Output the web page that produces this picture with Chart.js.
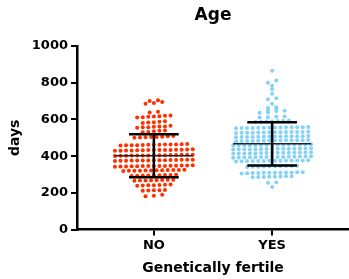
<!DOCTYPE html>
<html><head><meta charset="utf-8">
<script src="https://cdn.jsdelivr.net/npm/chart.js@4/dist/chart.umd.min.js"></script>
<style>html,body{margin:0;padding:0;background:#fff}#wrap{width:349px;height:279px;position:relative}</style>
</head><body><div id="wrap"><canvas id="c"></canvas></div>
<script>
const categories = ['NO', 'YES'];
const titleText = 'Age';
const xTitle = 'Genetically fertile';
const yTitle = 'days';
const yTicks = [0, 200, 400, 600, 800, 1000];

const noValues = [
  705, 700, 690, 685, 695,
  642, 638,
  620, 618, 615, 612, 610, 622, 616,
  588, 585, 583, 590, 580,
  562, 560, 558, 565, 555, 561, 557,
  538, 535, 532, 540, 530,
  508, 505, 502, 510, 500, 506, 504, 503,
  465, 462, 460, 463, 461, 464, 458, 466, 462, 460, 463, 459, 462,
  435, 433, 431, 434, 432, 436, 430, 433, 434, 432, 435, 431, 433, 437, 429,
  405, 403, 407, 404, 406, 402, 405, 408, 401, 404, 406, 403, 405, 407, 402,
  378, 376, 380, 377, 379, 375, 378, 381, 374, 377, 379, 376, 378, 380, 375,
  347, 345, 349, 346, 348, 344, 347, 350, 343, 346, 348, 345, 347, 349, 344,
  323, 321, 325, 322, 324, 320, 323, 326, 319, 322, 324, 321,
  296, 294, 298, 295, 297, 293, 296, 299, 292,
  269, 267, 271, 268, 270, 266, 269, 272,
  242, 240, 244, 241, 243, 239, 245,
  214, 212, 216, 213, 215,
  190, 185, 182
];

const yesValues = [
  865,
  812, 800,
  784,
  764,
  740,
  715, 710,
  685,
  666, 661, 663,
  650, 648, 646,
  638, 636,
  614, 612, 610, 616,
  592, 590, 588, 586, 594, 591, 589,
  556, 554, 558, 555, 557, 553, 556, 559, 552, 555, 557, 554, 556, 558,
  530, 528, 532, 529, 531, 527, 530, 533, 526, 529, 531, 528, 530, 532,
  507, 505, 509, 506, 508, 504, 507, 510, 503, 506, 508, 505, 507, 509,
  485, 483, 487, 484, 486, 482, 485, 488, 481, 484, 486, 483, 485, 487,
  462, 460, 464, 461, 463, 459, 462, 465, 458, 461, 463, 460, 462, 464, 459,
  440, 438, 442, 439, 441, 437, 440, 443, 436, 439, 441, 438, 440, 442, 437,
  418, 416, 420, 417, 419, 415, 418, 421, 414, 417, 419, 416, 418, 420, 415,
  396, 394, 398, 395, 397, 393, 396, 399, 392, 395, 397, 394, 396, 398, 393,
  375, 373, 377, 374, 376, 372, 375, 378, 371, 374, 376, 373, 375, 377,
  345, 343, 347, 344, 346, 342, 345, 348, 341, 344,
  310, 308, 312, 309, 311, 307, 310, 313, 306, 309, 311, 308,
  288, 286, 290, 287, 289, 285, 288, 291,
  257, 255,
  232
];

// Mean and SD
const means = [402, 467];
const sds = [117, 118];

const colors = ['#ff3000', '#84d2f7'];

function swarm(values, center, spacing, tol) {
  const s = values.slice().sort((a, b) => a - b);
  const rows = [];
  let cur = null;
  for (const v of s) {
    if (!cur || v - cur.start > tol) { cur = {start: v, vals: []}; rows.push(cur); }
    cur.vals.push(v);
  }
  const pts = [];
  for (const r of rows) {
    const n = r.vals.length;
    const sp = n <= 4 ? spacing * 1.5 : spacing;
    r.vals.forEach((v, i) => pts.push({x: center + (i - (n - 1) / 2) * sp, y: v}));
  }
  return pts;
}

const datasets = [];
const groups = [noValues, yesValues];
groups.forEach((vals, gi) => {
  const c = gi + 1, m = means[gi], sd = sds[gi];
  const seg = (pts, w, col) => datasets.push({type: 'line', data: pts, borderColor: col, borderWidth: w,
    pointRadius: 0, fill: false, order: 0, tension: 0});
  seg([{x: c - 0.33, y: m}, {x: c + 0.33, y: m}], 1.5, '#222');
  seg([{x: c, y: m - sd}, {x: c, y: m + sd}], 2.5, '#000');
  seg([{x: c - 0.21, y: m + sd}, {x: c + 0.21, y: m + sd}], 2.5, '#000');
  seg([{x: c - 0.21, y: m - sd}, {x: c + 0.21, y: m - sd}], 2.5, '#000');
  datasets.push({type: 'scatter', data: swarm(vals, c, 0.047, 12), backgroundColor: colors[gi],
    borderWidth: 0, pointRadius: 2, order: 1});
});

const FONT = 'DejaVu Sans';
const titlePlugin = {
  id: 'areaTitle',
  afterDraw(chart) {
    const ctx = chart.ctx, a = chart.chartArea;
    ctx.save();
    ctx.font = 'bold 17px ' + FONT;
    ctx.fillStyle = '#000';
    ctx.textAlign = 'center';
    ctx.textBaseline = 'middle';
    ctx.fillText(titleText, (a.left + a.right) / 2, 16);
    ctx.restore();
  }
};

new Chart(document.getElementById('c'), {
  type: 'scatter',
  data: {datasets},
  plugins: [titlePlugin],
  options: {
    responsive: true, maintainAspectRatio: false, animation: false,
    layout: {autoPadding: false, padding: {top: 46, right: 0, left: 6, bottom: 2}},
    plugins: {legend: {display: false}, tooltip: {enabled: false}},
    scales: {
      x: {
        type: 'linear', min: 0.35, max: 2.65,
        afterBuildTicks: (s) => { s.ticks = categories.map((_, i) => ({value: i + 1})); },
        afterFit: (s) => { s.paddingLeft = 0; s.paddingRight = 0; },
        ticks: {autoSkip: false, color: '#000', font: {family: FONT, weight: 'bold', size: 13}, padding: 2,
          callback: (v) => categories[Math.round(v) - 1] || ''},
        grid: {drawOnChartArea: false, drawTicks: true, tickLength: 6, color: '#000', lineWidth: 2},
        border: {display: true, color: '#000', width: 2.5},
        title: {display: true, text: xTitle, color: '#000', font: {family: FONT, weight: 'bold', size: 14}, padding: {top: 5, bottom: 0}}
      },
      y: {
        min: 0, max: 1000,
        afterBuildTicks: (s) => { s.ticks = yTicks.map(v => ({value: v})); },
        ticks: {color: '#000', font: {family: FONT, weight: 'bold', size: 13}, padding: 3,
          callback: (v) => String(v)},
        grid: {drawOnChartArea: false, drawTicks: true, tickLength: 6, color: '#000', lineWidth: 2},
        border: {display: true, color: '#000', width: 2.5},
        title: {display: true, text: yTitle, color: '#000', font: {family: FONT, weight: 'bold', size: 14}, padding: {top: 1, bottom: 5}}
      }
    }
  }
});
</script></body></html>
